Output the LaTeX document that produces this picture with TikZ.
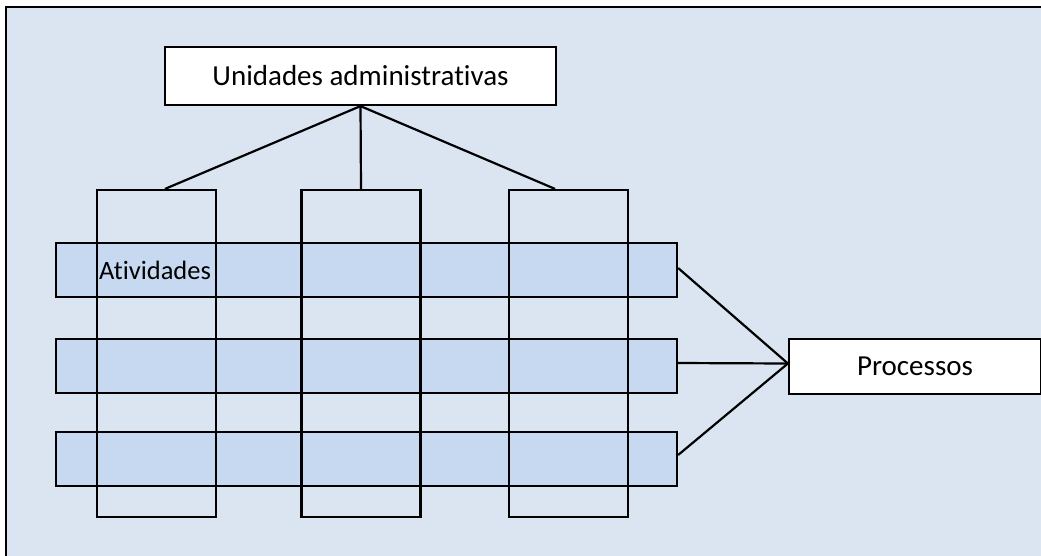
\documentclass[tikz,border=0pt]{standalone}
\usepackage{fontspec}
\setmainfont[Ligatures=NoCommon]{Carlito}
\usetikzlibrary{calc}
\definecolor{pagebg}{HTML}{DBE5F1}
\definecolor{rowfill}{HTML}{C6D9F1}
\begin{document}
\begin{tikzpicture}[x=1pt,y=-1pt,
  every node/.style={font=\fontsize{29}{34}\selectfont, inner sep=0pt},
  labelbox/.style={draw, line width=2.2pt, fill=white, rectangle},
  rowbar/.style={draw, line width=2.2pt, fill=rowfill, rectangle,
    minimum width=621pt, minimum height=54pt},
  colbar/.style={draw, line width=2.2pt, rectangle,
    minimum width=119pt, minimum height=327pt},
  link/.style={line width=2.2pt}]
\useasboundingbox (0,0) rectangle (1041,555);
% panel
\draw[line width=2.2pt, fill=pagebg] (6,7) rectangle (1060,570);

% administrative units
\node[labelbox, minimum width=391pt, minimum height=58pt] (units) at (360.5,76) {Unidades administrativas};

% activity rows (filled), drawn under the unit columns
\node[rowbar] (row1) at (366.5,270) {};
\node[rowbar] (row2) at (366.5,366) {};
\node[rowbar] (row3) at (366.5,459) {};

% unit columns
\node[colbar] (col1) at (156.5,353.5) {};
\node[colbar] (col2) at (361,353.5) {};
\node[colbar] (col3) at (568.5,353.5) {};

\node[anchor=base west, font=\fontsize{26.5}{32}\selectfont] (act) at (99,279) {Atividades};

% processes
\node[labelbox, minimum width=252pt, minimum height=55pt] (proc) at (915,366.5) {Processos};

% connectors
\draw[link] (units.south) -- ([xshift=8.5pt]col1.north);
\draw[link] (units.south) -- (col2.north);
\draw[link] (units.south) -- ([xshift=-13.5pt]col3.north);

\coordinate (hub) at ([yshift=3pt]proc.west);
\draw[link] ([yshift=2pt]row1.east) -- (hub);
\draw[link] ([yshift=3pt]row2.east) -- (hub);
\draw[link] ([yshift=4pt]row3.east) -- (hub);
\end{tikzpicture}
\end{document}
